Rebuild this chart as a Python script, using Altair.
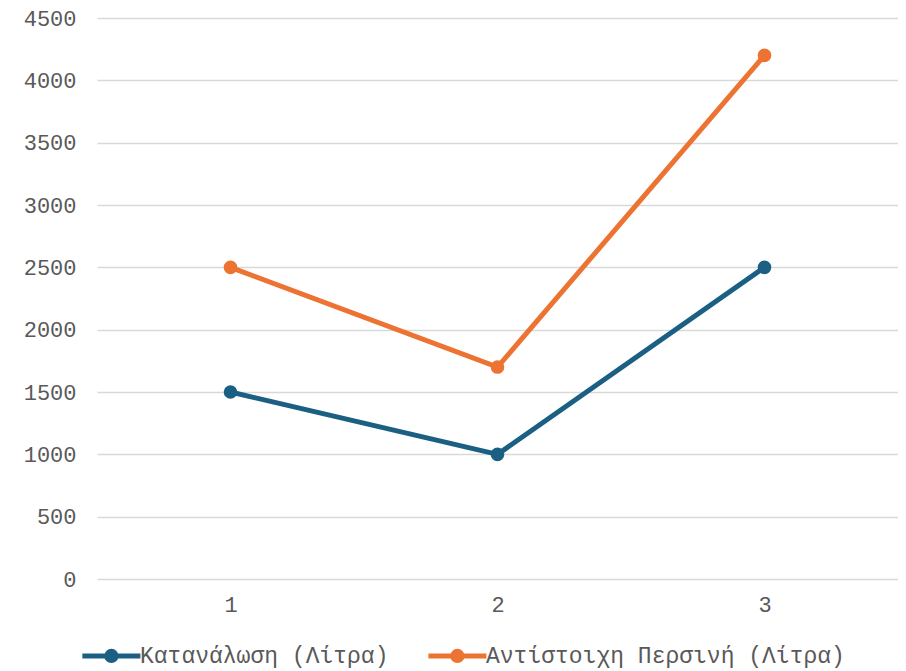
import altair as alt
import pandas as pd

categories = ["1", "2", "3"]
series_names = ["Κατανάλωση (Λίτρα)", "Αντίστοιχη Περσινή (Λίτρα)"]
consumption = [1500, 1000, 2500]
last_year = [2500, 1700, 4200]
colors = ["#1b5f83", "#ed7332"]

rows = []
for c, v in zip(categories, consumption):
    rows.append({"cat": c, "series": series_names[0], "value": v})
for c, v in zip(categories, last_year):
    rows.append({"cat": c, "series": series_names[1], "value": v})
df = pd.DataFrame(rows)

FONT = "Liberation Mono"
LABEL = "#595959"

r = 0.16
cx = 0.1
sym = (f"M{cx-1:.2f},0L{cx+1:.2f},0M{cx+r:.2f},0A{r},{r},0,1,1,{cx-r:.2f},0"
       f"A{r},{r},0,1,1,{cx+r:.2f},0Z")

color = alt.Color(
    "series:N",
    scale=alt.Scale(domain=series_names, range=colors),
    sort=series_names,
    legend=alt.Legend(
        title=None,
        orient="none",
        direction="horizontal",
        legendX=-20,
        legendY=606,
        symbolType=sym,
        symbolSize=3364,
        symbolStrokeWidth=5,
        labelFont=FONT,
        labelFontSize=23,
        labelColor=LABEL,
        labelOffset=0,
        columnPadding=29,
        labelLimit=600,
    ),
)

x = alt.X(
    "cat:N",
    sort=categories,
    scale=alt.Scale(type="point", padding=0.5),
    axis=alt.Axis(title=None, labelAngle=0, domain=False, ticks=False, grid=False,
                  labelPadding=15, labelFont=FONT, labelFontSize=22, labelColor=LABEL),
)
y = alt.Y(
    "value:Q",
    scale=alt.Scale(domain=[0, 4500], nice=False),
    axis=alt.Axis(title=None, values=list(range(0, 4501, 500)), format="d", domain=False,
                  ticks=False, labelPadding=21, gridColor="#d9d9d9", gridWidth=1.6,
                  labelFont=FONT, labelFontSize=22, labelColor=LABEL),
)

lines = alt.Chart(df).mark_line(strokeWidth=5).encode(x=x, y=y, color=color)
points = alt.Chart(df).mark_point(filled=True, size=185, opacity=1).encode(
    x=x, y=y, color=color
)

chart = (
    alt.layer(lines, points)
    .properties(
        width=801,
        height=561,
        background="white",
        autosize=alt.AutoSizeParams(type="none"),
        padding={"left": 89, "top": 10, "right": 0, "bottom": 90},
    )
    .configure_view(stroke=None)
)

chart.save("out.html", embed_options={"renderer": "svg", "actions": False})
